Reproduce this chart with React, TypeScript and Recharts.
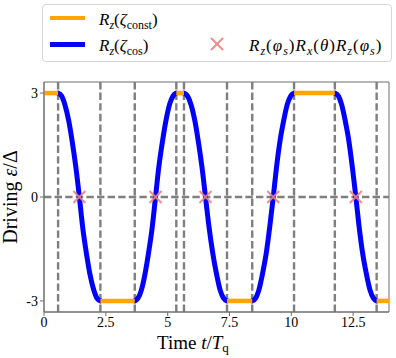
import { ComposedChart, Line, Scatter, XAxis, YAxis, ReferenceLine, ReferenceArea } from "recharts";

// flat (constant) driving segments: [start, end, level]
const constSegments: [number, number, number][] = [
  [0, 0.57, 3],
  [2.28, 3.67, -3],
  [5.35, 5.66, 3],
  [7.4, 8.42, -3],
  [10.11, 11.76, 3],
  [13.45, 13.95, -3],
];

// cosine sweeps, sample times
const sweepTimes: number[][] = [
  [0.57, 0.71, 0.84, 1.0, 1.13, 1.29, 1.43, 1.56, 1.72, 1.85, 2.01, 2.14, 2.28],
  [3.67, 3.8, 3.94, 4.09, 4.22, 4.38, 4.51, 4.64, 4.8, 4.93, 5.08, 5.22, 5.35],
  [5.66, 5.8, 5.94, 6.1, 6.23, 6.39, 6.53, 6.67, 6.83, 6.97, 7.12, 7.26, 7.4],
  [8.42, 8.56, 8.69, 8.84, 8.98, 9.13, 9.27, 9.4, 9.55, 9.69, 9.84, 9.98, 10.11],
  [11.76, 11.9, 12.03, 12.18, 12.32, 12.47, 12.61, 12.74, 12.89, 13.03, 13.18, 13.32, 13.45],
];
const sweepDown = [3, 2.92, 2.68, 2.2, 1.65, 0.85, 0, -0.85, -1.65, -2.2, -2.68, -2.92, -3];
const sweepUp = [-3, -2.92, -2.68, -2.2, -1.65, -0.85, 0, 0.85, 1.65, 2.2, 2.68, 2.92, 3];
const sweepShape = [sweepDown, sweepUp, sweepDown, sweepUp, sweepDown];

const pulseTimes = [1.43, 4.51, 6.53, 9.27, 12.61];
const pulseValues = [0, 0, 0, 0, 0];

const boundaries = [0.57, 2.28, 3.67, 5.35, 5.66, 7.4, 8.42, 10.11, 11.76, 13.45];
const xTicks = [0, 2.5, 5, 7.5, 10, 12.5];
const yTicks = [-3, 0, 3];

const X_MAX = 13.95;
const Y_LIM = 3.32;

const ORANGE = "#ffa500";
const BLUE = "#0000ff";
const CROSS = "#f08080";
const GRID = "#7f7f7f";
const FRAME = "#6e6e6e";
const FONT = "'Liberation Serif', 'DejaVu Serif', serif";

const sweeps = sweepTimes.map((ts, i) => ts.map((t, j) => ({ t, v: sweepShape[i][j] })));
const flats = constSegments.map(([a, b, lvl]) => [
  { t: a, v: lvl },
  { t: b, v: lvl },
]);
const pulses = pulseTimes.map((t, i) => ({ t, v: pulseValues[i] }));

const Cross = (props: { cx?: number; cy?: number }) => {
  const { cx = 0, cy = 0 } = props;
  const r = 6;
  return (
    <g stroke={CROSS} strokeWidth={2} opacity={0.9}>
      <line x1={cx - r} y1={cy - r} x2={cx + r} y2={cy + r} />
      <line x1={cx - r} y1={cy + r} x2={cx + r} y2={cy - r} />
    </g>
  );
};

const XTitle = () => (
  <text x={157} y={349} textAnchor="start" fontFamily={FONT} fontSize={19} fill="#000">
    <tspan>Time </tspan>
    <tspan fontStyle="italic">t</tspan>
    <tspan>/</tspan>
    <tspan fontStyle="italic">T</tspan>
    <tspan fontSize={13} dy={3}>q</tspan>
  </text>
);

const YTitle = () => (
  <text
    x={17}
    y={197}
    transform="rotate(-90, 17, 197)"
    textAnchor="middle"
    fontFamily={FONT}
    fontSize={20}
    fill="#000"
  >
    <tspan>Driving </tspan>
    <tspan fontStyle="italic">ε</tspan>
    <tspan>/Δ</tspan>
  </text>
);

const Sub = ({ children, italic }: { children: string; italic?: boolean }) => (
  <span style={{ fontSize: 12, position: "relative", top: 4, fontStyle: italic ? "italic" : "normal" }}>
    {children}
  </span>
);

const legendText: React.CSSProperties = {
  position: "absolute",
  fontFamily: FONT,
  fontSize: 17,
  lineHeight: "17px",
  whiteSpace: "nowrap",
  color: "#000",
};

const ChartLegend = () => (
  <div
    style={{
      position: "absolute",
      left: 42,
      top: 4,
      width: 348,
      height: 56,
      border: "1px solid #d6d6d6",
      borderRadius: 4,
      background: "rgba(255,255,255,0.8)",
    }}
  >
    <div style={{ position: "absolute", left: 7, top: 11, width: 35, height: 4, background: ORANGE }} />
    <div style={{ ...legendText, left: 56, top: 6 }}>
      <i>R</i>
      <Sub italic>z</Sub>(<i>ζ</i>
      <Sub>const</Sub>)
    </div>
    <div style={{ position: "absolute", left: 7, top: 37, width: 35, height: 4.5, background: BLUE }} />
    <div style={{ ...legendText, left: 56, top: 32 }}>
      <i>R</i>
      <Sub italic>z</Sub>(<i>ζ</i>
      <Sub>cos</Sub>)
    </div>
    <svg style={{ position: "absolute", left: 166, top: 31 }} width={16} height={16}>
      <Cross cx={8} cy={8} />
    </svg>
    <div style={{ ...legendText, left: 206, top: 32, letterSpacing: 1 }}>
      <i>R</i>
      <Sub italic>z</Sub>(<i>φ</i>
      <Sub italic>s</Sub>)<i>R</i>
      <Sub italic>x</Sub>(<i>θ</i>)<i>R</i>
      <Sub italic>z</Sub>(<i>φ</i>
      <Sub italic>s</Sub>)
    </div>
  </div>
);

export default function App() {
  const tickStyle = { fontSize: 14, fill: "#000", fontFamily: FONT };
  return (
    <div style={{ position: "absolute", left: 0, top: 0, width: 396, height: 358, background: "#fff" }}>
      <ComposedChart width={396} height={358} margin={{ top: 82, right: 7, bottom: 0, left: 0 }}>
        <XAxis
          type="number"
          dataKey="t"
          domain={[0, X_MAX]}
          ticks={xTicks}
          allowDataOverflow
          height={46}
          tick={tickStyle}
          tickSize={4}
          tickMargin={1}
          stroke={FRAME}
          label={{ content: () => <XTitle /> }}
        />
        <YAxis
          type="number"
          domain={[-Y_LIM, Y_LIM]}
          ticks={yTicks}
          allowDataOverflow
          width={44}
          tick={tickStyle}
          tickSize={4}
          stroke={FRAME}
          label={{ content: () => <YTitle /> }}
        />
        {boundaries.map((b) => (
          <ReferenceLine key={b} x={b} stroke={GRID} strokeWidth={2.4} strokeDasharray="7.4 3.2" />
        ))}
        <ReferenceLine y={0} stroke={GRID} strokeWidth={2.4} strokeDasharray="7.4 3.2" />
        {sweeps.map((pts, i) => (
          <Line
            key={`s${i}`}
            data={pts}
            dataKey="v"
            type="monotone"
            stroke={BLUE}
            strokeWidth={5}
            strokeLinecap="round"
            dot={false}
            activeDot={false}
            isAnimationActive={false}
          />
        ))}
        {flats.map((pts, i) => (
          <Line
            key={`f${i}`}
            data={pts}
            dataKey="v"
            type="linear"
            stroke={ORANGE}
            strokeWidth={4.5}
            dot={false}
            activeDot={false}
            isAnimationActive={false}
          />
        ))}
        <Scatter data={pulses} dataKey="v" shape={(p: any) => <Cross cx={p.cx} cy={p.cy} />} isAnimationActive={false} />
        <ReferenceArea x1={0} x2={X_MAX} y1={-Y_LIM} y2={Y_LIM} fill="none" stroke={FRAME} strokeWidth={1} />
      </ComposedChart>
      <ChartLegend />
    </div>
  );
}
